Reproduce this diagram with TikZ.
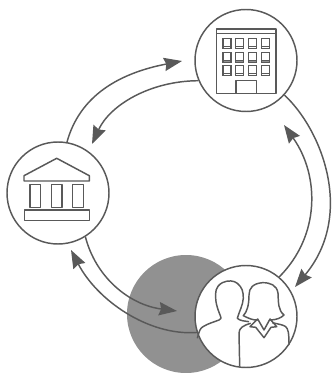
\documentclass[tikz,border=0pt]{standalone}
\usepackage{tikz}
\usetikzlibrary{arrows.meta}
\begin{document}
\begin{tikzpicture}[x=0.75pt,y=-0.75pt]
	\tikzstyle{hub} = [draw=linegray,circle,line width=1.1pt,fill=white,minimum size=76.5pt,inner sep=0]
	\tikzstyle{icon} = [draw=linegray,line width=1.1pt,line join=round]
	\tikzstyle{thin} = [draw=linegray,line width=0.8pt]
	\tikzstyle{flow} = [draw=linegray,line width=1.1pt,-{Stealth[length=13.5pt,width=10pt,inset=1.5pt]}]
	\definecolor{linegray}{HTML}{595959}
	\definecolor{blobgray}{HTML}{919191}
	\useasboundingbox (0,0) rectangle (331,373);
	\node [circle,fill=blobgray,minimum size=88.5pt,inner sep=0] (blob) at (186,314) {};
	\node [hub] (office) at (246,60.5) {};
	\node [hub] (bank) at (58,193) {};
	\node [hub] (people) at (246,316.5) {};
	\coordinate (t1) at (182,61);
	\coordinate (t2) at (92,144);
	\coordinate (t3) at (295,287);
	\coordinate (t4) at (284,125);
	\coordinate (t5) at (71,250);
	\coordinate (t6) at (177,311);

	\draw [flow] (bank.80) .. controls (80,95) and (120,73) .. (t1);
	\draw [flow] (office.203) .. controls (150,81) and (110,105) .. (t2);
	\draw [flow] (office.-42) .. controls (322,130) and (355,215) .. (t3);
	\draw [flow] (people.50) .. controls (320,236) and (320,176) .. (t4);
	\draw [flow] (people.198) .. controls (148,336) and (97,300) .. (t5);
	\draw [flow] (bank.-58) .. controls (96,278) and (130,305) .. (t6);

	% office
	\draw [icon] (216.7,29) rectangle (276,93.3);
	\draw [icon] (216.7,33.3) -- (276,33.3);
	\draw [icon] (236,93.3) -- (236,80.3) -- (256.7,80.3) -- (256.7,93.3);
	\foreach \x in {223,235.7,248.7,261.3}
	{
		\fill [blobgray] (\x,60) rectangle (\x+8,62.3);
		\foreach \y in {38.3,52.3,65.7}
		{
			\draw [thin] (\x,\y) rectangle (\x+8,\y+10);
			\draw [thin] (\x,\y+8) -- (\x+8,\y+8);
		}
	}

	% bank
	\draw [icon] (24,181) -- (24,175.7) -- (56.7,158.3) -- (89.3,175.7) -- (89.3,181) -- cycle;
	\foreach \x in {30,51.3,72.7}
		\draw [icon] (\x,184.7) rectangle (\x+10.7,207.3);
	\draw [icon] (24.3,210) rectangle (89.3,220.3);

	% people
	\draw [icon] (197.3,338.3) .. controls (199,332) and (200,328) .. (203,326.7) .. controls (208,323.5) and (214,322) .. (219,320) .. controls (221,319) and (221.5,318) .. (220.7,316.7) .. controls (219,312) and (216,306) .. (215.7,298.3) .. controls (215.5,292) and (215,287) .. (222.3,282.7) .. controls (228,280) and (234,280.5) .. (237.3,283.3) .. controls (242,287) and (243.5,292) .. (243.3,298.3) .. controls (243,305) and (239,312) .. (237.3,318.3) .. controls (240,321) and (245,321) .. (249,321.7);
	\draw [icon] (258,320) .. controls (253,320.5) and (248,318) .. (243.3,315.7) .. controls (247,312) and (249,305) .. (249,295) .. controls (249,288) and (253,283.5) .. (262.3,282.7) .. controls (270,282.5) and (277,285) .. (278,293.3) .. controls (278.5,303) and (278,310) .. (284,315) .. controls (281,318) and (276,320) .. (270,320);
	% collar
	\draw [icon] (250,326.7) -- (257.7,319) -- (264,330) -- (270,319) -- (276.7,326.7) -- (271,327.3) -- (264,337.7) -- (255.7,327.3) -- cycle;
	% jacket
	\draw [icon] (239.7,366.7) -- (239,333.3) .. controls (239,328) and (243,325.5) .. (250.7,323.3);
	\draw [icon] (272.3,322.7) .. controls (278,324) and (284,325) .. (285.7,326.7) .. controls (288,329) and (289,332) .. (289,345);
\end{tikzpicture}
\end{document}
